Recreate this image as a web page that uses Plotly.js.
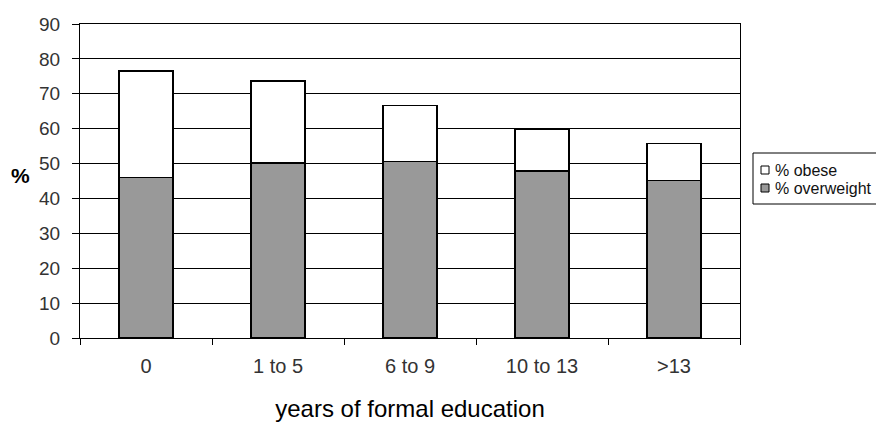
<!DOCTYPE html>
<html>
<head>
<meta charset="utf-8">
<script src="https://cdn.plot.ly/plotly-3.0.1.min.js"></script>
<style>html,body{margin:0;padding:0;background:#fff;}#chart{width:876px;height:428px;}</style>
</head>
<body>
<div id="chart"></div>
<script>
const categories = ["0", "1 to 5", "6 to 9", "10 to 13", ">13"];
const overweight = [46.0, 50.2, 50.5, 47.9, 45.2];
const obese = [30.5, 23.5, 16.2, 11.9, 10.6];
const seriesNames = ["% overweight", "% obese"];
const seriesColors = ["#999999", "#ffffff"];
const yTicks = [0, 10, 20, 30, 40, 50, 60, 70, 80, 90];

const FONT = "Liberation Sans, Arial, sans-serif";
const W = 876, H = 428;
const M = {l: 80, r: 136, t: 24, b: 90};
const PW = W - M.l - M.r, PH = H - M.t - M.b;
// pixel -> paper helpers (layout positioning only)
const px = v => (v - M.l) / PW;
const py = v => (H - M.b - v) / PH;

const seriesValues = [overweight, obese];
const traces = seriesValues.map((vals, i) => ({
  type: "bar", name: seriesNames[i], x: categories, y: vals,
  marker: {color: seriesColors[i], line: {color: "#000000", width: 1.3}},
  showlegend: false
}));

// Excel-style legend (reversed order for stacked bars), running to the right edge like the reference
const legendRows = [1, 0];
const rowY = [170, 188];
const shapes = [
  {type: "rect", xref: "paper", yref: "paper", x0: px(753), x1: px(905), y0: py(204), y1: py(153),
   line: {color: "#000000", width: 1}, fillcolor: "#ffffff", layer: "above"}
];
const annotations = [
  {text: "<b>%</b>", xref: "paper", yref: "paper", x: px(20), y: py(175),
   xanchor: "center", yanchor: "middle", showarrow: false,
   font: {family: FONT, size: 21, color: "#000000"}}
];
legendRows.forEach((s, r) => {
  shapes.push({type: "rect", xref: "paper", yref: "paper",
    x0: px(761), x1: px(769), y0: py(rowY[r] + 4), y1: py(rowY[r] - 4),
    line: {color: "#000000", width: 1}, fillcolor: seriesColors[s], layer: "above"});
  annotations.push({text: seriesNames[s], xref: "paper", yref: "paper",
    x: px(773), y: py(rowY[r]), xanchor: "left", yanchor: "middle", showarrow: false,
    font: {family: FONT, size: 16, color: "#111111"}});
});

const layout = {
  width: W, height: H,
  margin: M,
  paper_bgcolor: "#ffffff", plot_bgcolor: "#ffffff",
  barmode: "stack", bargap: 0.59,
  font: {family: FONT, color: "#333333", size: 14},
  showlegend: false,
  xaxis: {
    type: "category",
    showline: true, linecolor: "#000000", linewidth: 1, mirror: true,
    ticks: "outside", tickson: "boundaries", ticklen: 6, tickcolor: "#000000",
    showgrid: false,
    ticklabelstandoff: 10,
    tickfont: {family: FONT, size: 20, color: "#333333"},
    title: {text: "years of formal education", font: {family: FONT, size: 24, color: "#000000"}, standoff: 24}
  },
  yaxis: {
    range: [0, 90], tickvals: yTicks,
    showline: true, linecolor: "#000000", linewidth: 1, mirror: true,
    ticks: "outside", ticklen: 7, tickcolor: "#000000",
    showgrid: true, gridcolor: "#000000", gridwidth: 1,
    zeroline: false,
    ticklabelstandoff: 8,
    tickfont: {family: FONT, size: 19, color: "#333333"}
  },
  shapes: shapes,
  annotations: annotations
};

Plotly.newPlot("chart", traces, layout, {displayModeBar: false, staticPlot: true});
</script>
</body>
</html>
